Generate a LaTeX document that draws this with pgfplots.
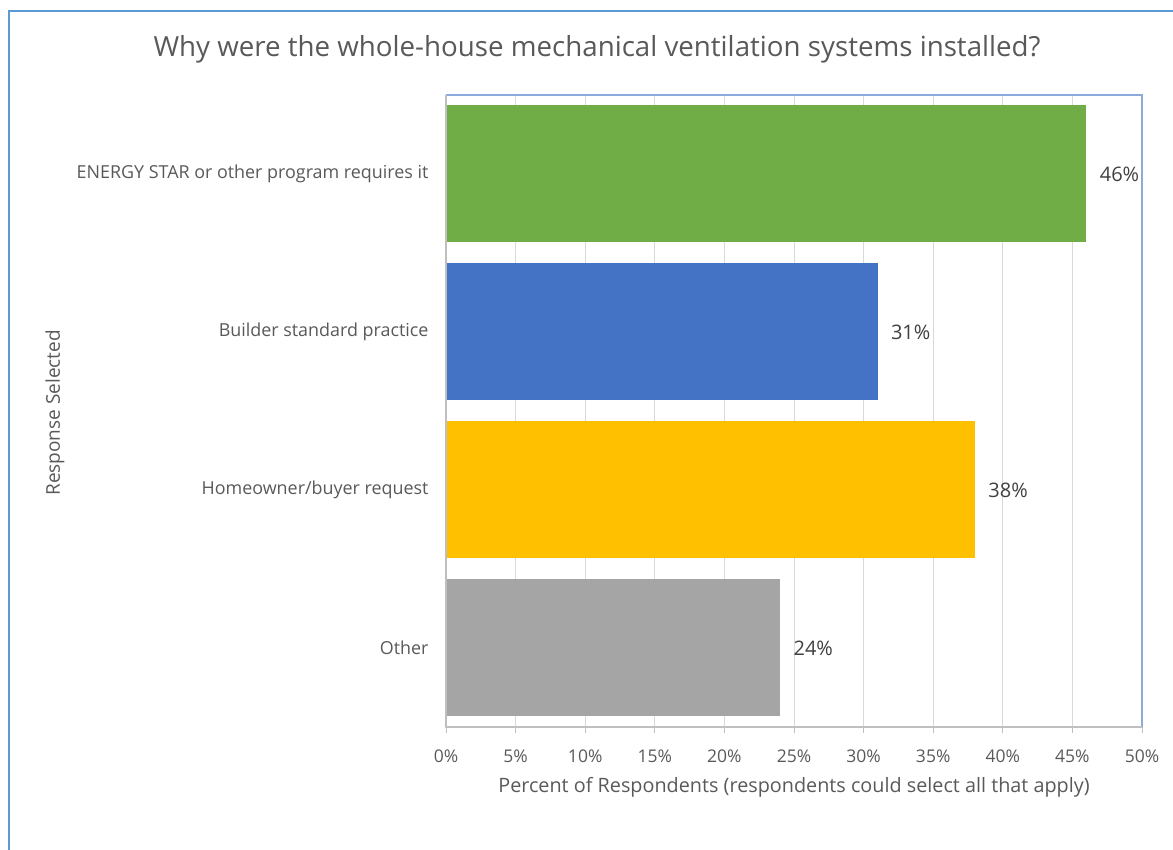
\documentclass[border=0pt]{standalone}
\usepackage{pgfplots}
\pgfplotsset{compat=1.18}
\usepackage{fontspec}
\setmainfont{Open Sans}
\definecolor{cgreen}{HTML}{70AD47}
\definecolor{cblue}{HTML}{4472C4}
\definecolor{cyellow}{HTML}{FFC000}
\definecolor{cgray}{HTML}{A5A5A5}
\definecolor{txt}{HTML}{595959}
\definecolor{lbl}{HTML}{404040}
\definecolor{frame}{HTML}{5B9BD5}
\definecolor{pborder}{HTML}{8EA9DB}
\definecolor{grid}{HTML}{D9D9D9}
\definecolor{axl}{HTML}{BFBFBF}
\begin{document}
\begin{tikzpicture}[x=1pt,y=1pt]
\useasboundingbox (0,0) rectangle (1173,850);
\draw[frame, line width=2.5pt] (9,0) -- (9,839) -- (1173,839);
\begin{axis}[
  at={(446pt,123pt)}, anchor=south west,
  width=696pt, height=632pt, scale only axis,
  xbar, bar width=137pt, bar shift=0pt,
  xmin=0, xmax=50, ymin=-0.5, ymax=3.5,
  axis line style={draw=none},
  ytick={0,1,2,3},
  yticklabels={Other, Homeowner/buyer request, Builder standard practice, ENERGY STAR or other program requires it},
  ytick style={draw=none},
  yticklabel style={font=\fontsize{17.9}{21}\selectfont, text=txt, xshift=-8pt},
  xtick={0,5,...,50},
  xticklabel={\pgfmathprintnumber{\tick}\%},
  xticklabel style={font=\fontsize{17.5}{20}\selectfont, text=txt, yshift=-13pt},
  xtick pos=bottom, tick align=outside,
  major tick length=6pt,
  xtick style={draw=axl, line width=1pt},
  xmajorgrids, grid style={draw=grid, line width=1pt},
  /pgf/number format/assume math mode=true,
  title={Why were the whole-house mechanical ventilation systems installed?},
  title style={at={(0.217,1.063)}, anchor=center, font=\fontsize{27.7}{33}\selectfont, text=txt},
  xlabel={Percent of Respondents (respondents could select all that apply)},
  xlabel style={at={(0.5,-0.095)}, anchor=center, font=\fontsize{19.8}{23}\selectfont, text=txt},
  ylabel={Response Selected},
  ylabel style={at={(-0.562,0.497)}, anchor=center, rotate=0, font=\fontsize{19}{22}\selectfont, text=txt},
  nodes near coords={\pgfmathprintnumber{\pgfplotspointmeta}\%},
  point meta=x,
  nodes near coords style={anchor=west, xshift=10pt, font=\fontsize{20}{23}\selectfont, text=lbl},
  clip=false,
]
\addplot[fill=cgreen, draw=none] coordinates {(46,3)};
\addplot[fill=cblue, draw=none] coordinates {(31,2)};
\addplot[fill=cyellow, draw=none] coordinates {(38,1)};
\addplot[fill=cgray, draw=none] coordinates {(24,0)};
\draw[pborder, line width=1.2pt] (rel axis cs:0,1) -- (rel axis cs:1,1) -- (rel axis cs:1,0);
\draw[axl, line width=1.2pt] (rel axis cs:0,1) -- (rel axis cs:0,0) -- (rel axis cs:1,0);
\end{axis}
\end{tikzpicture}
\end{document}
